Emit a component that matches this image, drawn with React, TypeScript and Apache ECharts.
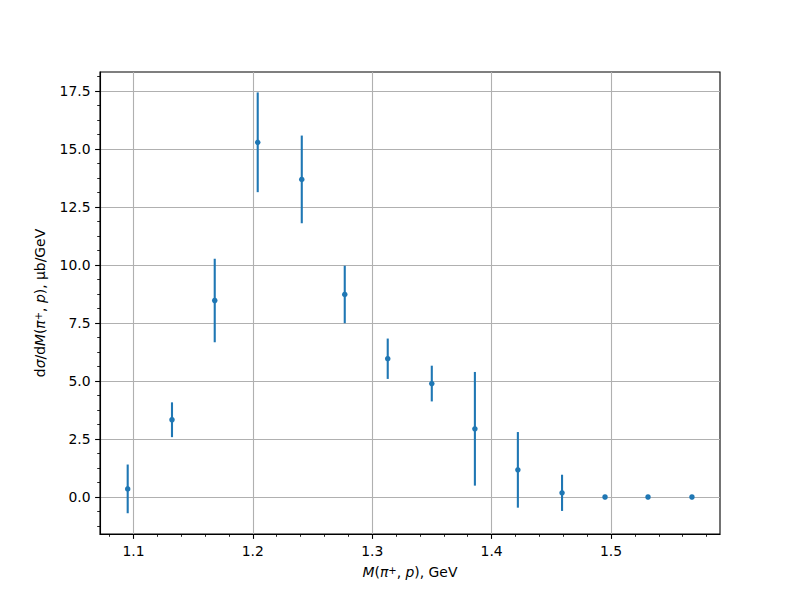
import React, { useEffect, useRef } from "react";
import * as echarts from "echarts";

const massGeV = [1.0952, 1.1323, 1.1681, 1.2041, 1.241, 1.277, 1.313, 1.3499, 1.386, 1.422, 1.459, 1.495, 1.531, 1.5678];
const crossSection = [0.35, 3.33, 8.47, 15.29, 13.69, 8.73, 5.96, 4.89, 2.94, 1.17, 0.18, 0, 0, 0];
const errors = [1.05, 0.75, 1.8, 2.15, 1.89, 1.24, 0.87, 0.77, 2.45, 1.63, 0.78, 0, 0, 0];

const xMajorTicks = [1.1, 1.2, 1.3, 1.4, 1.5];
const xMinorTicks = [1.08, 1.12, 1.14, 1.16, 1.18, 1.22, 1.24, 1.26, 1.28, 1.32, 1.34, 1.36, 1.38, 1.42, 1.44, 1.46, 1.48, 1.52, 1.54, 1.56, 1.58];
const yMajorTicks = [0, 2.5, 5, 7.5, 10, 12.5, 15, 17.5];
const yMinorTicks = [-1.25, -0.625, 0.625, 1.25, 1.875, 3.125, 3.75, 4.375, 5.625, 6.25, 6.875, 8.125, 8.75, 9.375, 10.625, 11.25, 11.875, 13.125, 13.75, 14.375, 15.625, 16.25, 16.875, 18.125];

const X_MIN = 1.072;
const X_MAX = 1.5913;
const Y_MIN = -1.595;
const Y_MAX = 18.32;

const FONT = "DejaVu Sans";
const FS = 13.9;
const BLUE = "#1f77b4";

const rich = {
  r: { fontFamily: FONT, fontSize: FS, color: "#000" },
  i: { fontFamily: FONT, fontSize: FS, fontStyle: "italic", color: "#000" },
  s: { fontFamily: FONT, fontSize: 10, color: "#000", verticalAlign: "top", lineHeight: 10 },
};

export default function App() {
  const ref = useRef<HTMLDivElement>(null);
  useEffect(() => {
    if (!ref.current) return;
    const chart = echarts.init(ref.current, null, { renderer: "svg" });
    const points = massGeV.map((x, i) => [x, crossSection[i]]);
    const bars = massGeV.map((x, i) => [x, crossSection[i], errors[i]]);
    const tickLine = { color: "#000", width: 1.1 };
    chart.setOption({
      animation: false,
      backgroundColor: "#fff",
      grid: {
        left: 100,
        right: 80,
        top: 72,
        bottom: 66,
        show: true,
        borderColor: "#000",
        borderWidth: 1.1,
        backgroundColor: "transparent",
      },
      xAxis: [
        {
          type: "value",
          min: X_MIN,
          max: X_MAX,
          interval: 0.1,
          position: "bottom",
          name: "{i|M}{r|(}{i|π}{s|+}{r|, }{i|p}{r|), GeV}",
          nameLocation: "middle",
          nameGap: 31,
          nameTextStyle: { fontFamily: FONT, fontSize: FS, color: "#000", rich },
          axisLine: { show: true, onZero: false, lineStyle: tickLine },
          axisTick: { show: true, length: 4.9, lineStyle: tickLine, customValues: xMajorTicks },
          axisLabel: {
            customValues: xMajorTicks,
            margin: 9.5,
            fontFamily: FONT,
            fontSize: FS,
            color: "#000",
            formatter: (v: number) => v.toFixed(1),
          },
          splitLine: { show: true, lineStyle: { color: "#b0b0b0", width: 1.1 } },
        },
        {
          type: "value",
          min: X_MIN,
          max: X_MAX,
          position: "bottom",
          axisLine: { show: false, onZero: false },
          axisTick: { show: true, length: 2.8, lineStyle: { color: "#000", width: 0.85 }, customValues: xMinorTicks },
          axisLabel: { show: false },
          splitLine: { show: false },
        },
      ],
      yAxis: [
        {
          type: "value",
          min: Y_MIN,
          max: Y_MAX,
          interval: 2.5,
          position: "left",
          name: "{r|d}{i|σ}{r|/d}{i|M}{r|(}{i|π}{s|+}{r|, }{i|p}{r|), μb/GeV}",
          nameLocation: "middle",
          nameGap: 53,
          nameRotate: 90,
          nameTextStyle: { fontFamily: FONT, fontSize: FS, color: "#000", rich },
          axisLine: { show: true, onZero: false, lineStyle: tickLine },
          axisTick: { show: true, length: 4.9, lineStyle: tickLine, customValues: yMajorTicks },
          axisLabel: {
            customValues: yMajorTicks,
            margin: 9.5,
            fontFamily: FONT,
            fontSize: FS,
            color: "#000",
            formatter: (v: number) => v.toFixed(1),
          },
          splitLine: { show: true, lineStyle: { color: "#b0b0b0", width: 1.1 } },
        },
        {
          type: "value",
          min: Y_MIN,
          max: Y_MAX,
          position: "left",
          axisLine: { show: false, onZero: false },
          axisTick: { show: true, length: 2.8, lineStyle: { color: "#000", width: 0.85 }, customValues: yMinorTicks },
          axisLabel: { show: false },
          splitLine: { show: false },
        },
      ],
      series: [
        {
          type: "custom",
          xAxisIndex: 0,
          yAxisIndex: 0,
          data: bars,
          encode: { x: 0, y: 1 },
          renderItem: (params: any, api: any) => {
            const x = api.value(0);
            const y = api.value(1);
            const e = api.value(2);
            const top = api.coord([x, y + e]);
            const bot = api.coord([x, y - e]);
            return {
              type: "line",
              shape: { x1: top[0], y1: top[1], x2: bot[0], y2: bot[1] },
              style: { stroke: BLUE, lineWidth: 2.1 },
            };
          },
          z: 3,
        },
        {
          type: "scatter",
          xAxisIndex: 0,
          yAxisIndex: 0,
          data: points,
          symbol: "circle",
          symbolSize: 5.5,
          itemStyle: { color: BLUE, opacity: 1 },
          z: 4,
        },
      ],
    });
    return () => chart.dispose();
  }, []);
  return <div ref={ref} style={{ position: "absolute", left: 0, top: 0, width: 800, height: 600 }} />;
}
